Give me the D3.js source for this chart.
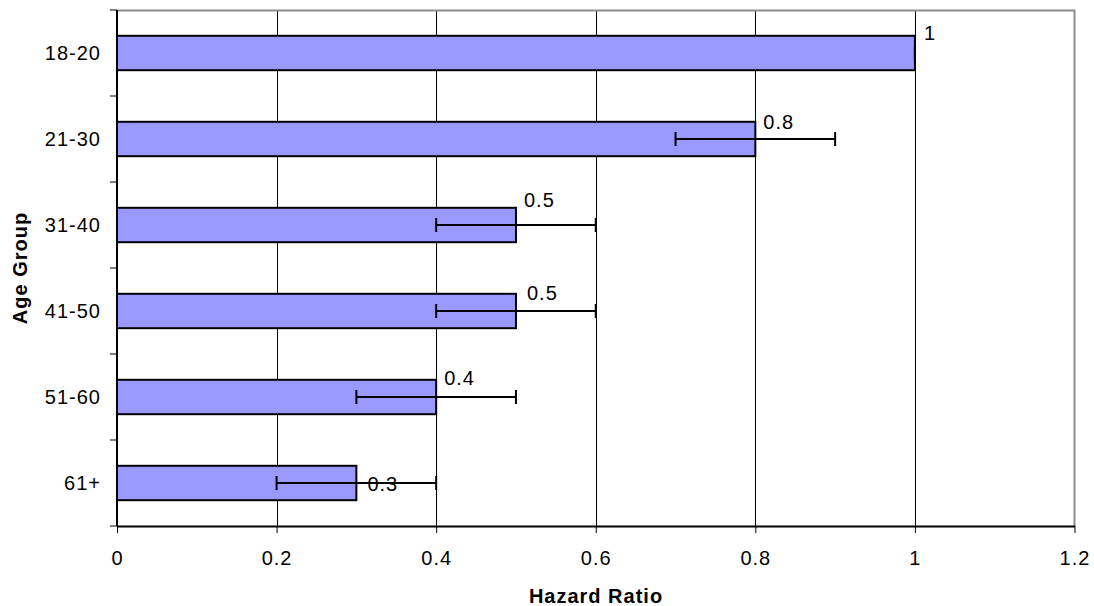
<!DOCTYPE html>
<html><head><meta charset="utf-8">
<script src="https://cdn.jsdelivr.net/npm/d3@7"></script>
<style>html,body{margin:0;padding:0;background:#fff;}svg{display:block;}</style>
</head><body>
<svg id="c" width="1094" height="606"></svg>
<script>
const categories = ["18-20","21-30","31-40","41-50","51-60","61+"];
const values = [1, 0.8, 0.5, 0.5, 0.4, 0.3];
const errLow = [1, 0.7, 0.4, 0.4, 0.3, 0.2];
const errHigh = [1, 0.9, 0.6, 0.6, 0.5, 0.4];
const xTicks = [0, 0.2, 0.4, 0.6, 0.8, 1, 1.2];
const xTickLabels = ["0","0.2","0.4","0.6","0.8","1","1.2"];
// label placement tweaks (style, not data)
const labelDx = [9, 8, 8, 11, 8, 11];
const labelDy = [-20, -17, -25, -18, -19, 1];

const svg = d3.select("#c");
const L = 117, R = 1074.5, T = 10, B = 526;
const x = d3.scaleLinear().domain([0, 1.2]).range([L, R]);
const y = d3.scaleBand().domain(categories).range([T, B]).paddingInner(0.6).paddingOuter(0.3);
const font = "'Liberation Sans', Arial, sans-serif";
const FS = 20, LS = "1px";

// gridlines
svg.append("g").selectAll("line").data(xTicks.filter(t => t > 0 && t < 1.2)).join("line")
  .attr("x1", d => Math.round(x(d)) + 0.5).attr("x2", d => Math.round(x(d)) + 0.5)
  .attr("y1", T).attr("y2", B).attr("stroke", "#000").attr("stroke-width", 1);

// frame top/right (gray)
svg.append("path").attr("d", `M${L},${T+0.5}H${R}V${B}`).attr("fill", "none")
  .attr("stroke", "#8c8c8c").attr("stroke-width", 2);

// bars
svg.append("g").selectAll("rect").data(categories).join("rect")
  .attr("x", x(0)).attr("y", d => y(d))
  .attr("width", (d, i) => x(values[i]) - x(0)).attr("height", y.bandwidth())
  .attr("fill", "#9999FF").attr("stroke", "#000").attr("stroke-width", 2);

// error bars
const eg = svg.append("g").attr("stroke", "#000").attr("stroke-width", 2);
categories.forEach((c, i) => {
  const cy = y(c) + y.bandwidth() / 2;
  eg.append("line").attr("x1", x(errLow[i])).attr("x2", x(errHigh[i])).attr("y1", cy).attr("y2", cy);
  [errLow[i], errHigh[i]].forEach(v => {
    eg.append("line").attr("x1", x(v)).attr("x2", x(v)).attr("y1", cy - 7).attr("y2", cy + 7);
  });
});

// value labels
svg.append("g").selectAll("text").data(categories).join("text")
  .attr("x", (d, i) => x(values[i]) + labelDx[i])
  .attr("y", (d, i) => y(d) + y.bandwidth() / 2 + labelDy[i])
  .attr("dy", "0.35em")
  .attr("font-family", font).attr("font-size", FS).attr("letter-spacing", LS).attr("fill", "#000")
  .text((d, i) => String(values[i]));

// x axis
const xAxis = d3.axisBottom(x).tickValues(xTicks).tickFormat((d, i) => xTickLabels[i]).tickSize(7).tickSizeOuter(0).tickPadding(18);
const gx = svg.append("g").attr("transform", `translate(0,${B})`).call(xAxis);
gx.select(".domain").attr("stroke", "#000").attr("stroke-width", 2);
gx.selectAll(".tick line").attr("stroke", "#000").attr("stroke-width", 1);
gx.selectAll("text").attr("font-family", font).attr("font-size", FS).attr("letter-spacing", LS).attr("fill", "#000");

// y axis
const gy = svg.append("g").attr("transform", `translate(${L},0)`);
gy.append("line").attr("x1", 0).attr("x2", 0).attr("y1", T).attr("y2", B).attr("stroke", "#000").attr("stroke-width", 2);
const step = y.step();
const bounds = categories.map(c => y(c) - (step - y.bandwidth()) / 2).concat([B]);
gy.selectAll("line.tk").data(bounds).join("line").attr("class", "tk")
  .attr("x1", -7).attr("x2", 0).attr("y1", d => d).attr("y2", d => d)
  .attr("stroke", "#000").attr("stroke-width", 1);
gy.selectAll("text").data(categories).join("text")
  .attr("x", -16).attr("y", d => y(d) + y.bandwidth() / 2).attr("dy", "0.35em")
  .attr("text-anchor", "end").attr("font-family", font).attr("font-size", FS).attr("letter-spacing", LS).attr("fill", "#000")
  .text(d => d);

// axis titles
svg.append("text").attr("x", 596).attr("y", 603).attr("text-anchor", "middle")
  .attr("font-family", font).attr("font-size", FS).attr("letter-spacing", LS).attr("font-weight", "bold").text("Hazard Ratio");
svg.append("text").attr("transform", `translate(27,268) rotate(-90)`).attr("text-anchor", "middle")
  .attr("font-family", font).attr("font-size", FS).attr("letter-spacing", LS).attr("font-weight", "bold").text("Age Group");
</script>
</body></html>
